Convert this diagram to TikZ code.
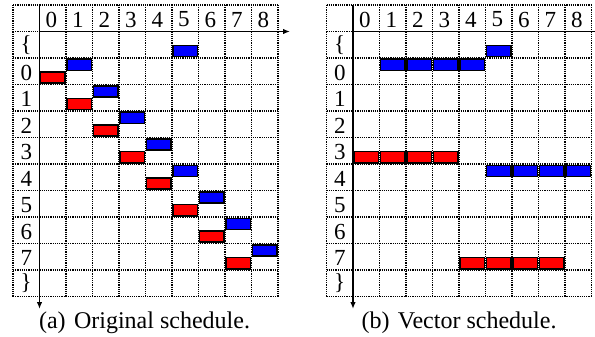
\documentclass[tikz,border=0pt]{standalone}
\usepackage{fontspec}
\setmainfont{Liberation Serif}
\usetikzlibrary{arrows.meta}
\begin{document}
\begin{tikzpicture}[x=1pt,y=-1pt,
  gridline/.style={line width=1.3pt,dash pattern=on 1.2pt off 1pt},
  axisline/.style={line width=1.8pt,-{Latex[length=7pt,width=5.5pt]}},
  bar/.style={draw=black,line width=1.6pt},
  blu/.style={bar,fill=blue},
  rd/.style={bar,fill=red},
  lbl/.style={font=\fontsize{23}{25}\selectfont,inner sep=0pt},
  captext/.style={font=\fontsize{24}{26}\selectfont,inner sep=0pt,anchor=base}]
\useasboundingbox (0,0) rectangle (595,337);
\def\cs{26.5}
% ---------- grids ----------
\foreach \gx/\gn in {13/L,326.5/R}{
  \foreach \k in {0,...,10}{
    \draw[gridline] ({\gx+\k*\cs},5) -- ({\gx+\k*\cs},{5+11*\cs});
  }
  \foreach \k in {0,...,11}{
    \draw[gridline] (\gx,{5+\k*\cs}) -- ({\gx+10*\cs},{5+\k*\cs});
  }
  \foreach \d in {0,...,8}{
    \node[lbl] (\gn h\d) at ({\gx+(\d+1.45)*\cs},{5+0.55*\cs}) {\d};
  }
  \node[lbl] (\gn rb) at ({\gx+0.5*\cs},{5+1.5*\cs}) {\{};
  \foreach \r in {0,...,7}{
    \node[lbl] (\gn r\r) at ({\gx+0.5*\cs},{5+(\r+2.55)*\cs}) {\r};
  }
  \node[lbl] (\gn re) at ({\gx+0.5*\cs},{5+10.5*\cs}) {\}};
  \coordinate (\gn o) at ({\gx+\cs},{5+\cs});
  \coordinate (\gn top) at ({\gx+\cs},5);
  \coordinate (\gn xe) at ({\gx+10*\cs+12},{5+\cs});
  \coordinate (\gn ye) at ({\gx+\cs},309);
  \draw[axisline] (\gn o) -- (\gn xe);
  \draw[axisline] (\gn top) -- (\gn ye);
}
% upper half bar: column c, row r (row -1 = "{")
\def\ubar#1#2#3#4{\draw[#4] ({#1+(#2+1)*\cs+1},{5+(#3+2)*\cs+1.3}) rectangle ({#1+(#2+2)*\cs-1},{5+(#3+2.5)*\cs-0.6});}
\def\lbar#1#2#3#4{\draw[#4] ({#1+(#2+1)*\cs+1},{5+(#3+2.5)*\cs+0.6}) rectangle ({#1+(#2+2)*\cs-1},{5+(#3+3)*\cs-1.3});}
% ---------- left: original schedule ----------
\lbar{13}{5}{-1}{blu}
\foreach \r in {0,...,7}{
  \pgfmathtruncatemacro\nc{\r+1}
  \ubar{13}{\nc}{\r}{blu}
  \lbar{13}{\r}{\r}{rd}
}
% ---------- right: vector schedule ----------
\lbar{326.5}{5}{-1}{blu}
\foreach \c in {1,...,4}{\ubar{326.5}{\c}{0}{blu}}
\foreach \c in {0,...,3}{\lbar{326.5}{\c}{3}{rd}}
\foreach \c in {5,...,8}{\ubar{326.5}{\c}{4}{blu}}
\foreach \c in {4,...,7}{\lbar{326.5}{\c}{7}{rd}}
% ---------- captions ----------
\node[captext] (capa) at (144.5,328) {(a)\hspace{0.35em}Original schedule.};
\node[captext] (capb) at (459,328) {(b)\hspace{0.35em}Vector schedule.};
\end{tikzpicture}
\end{document}
